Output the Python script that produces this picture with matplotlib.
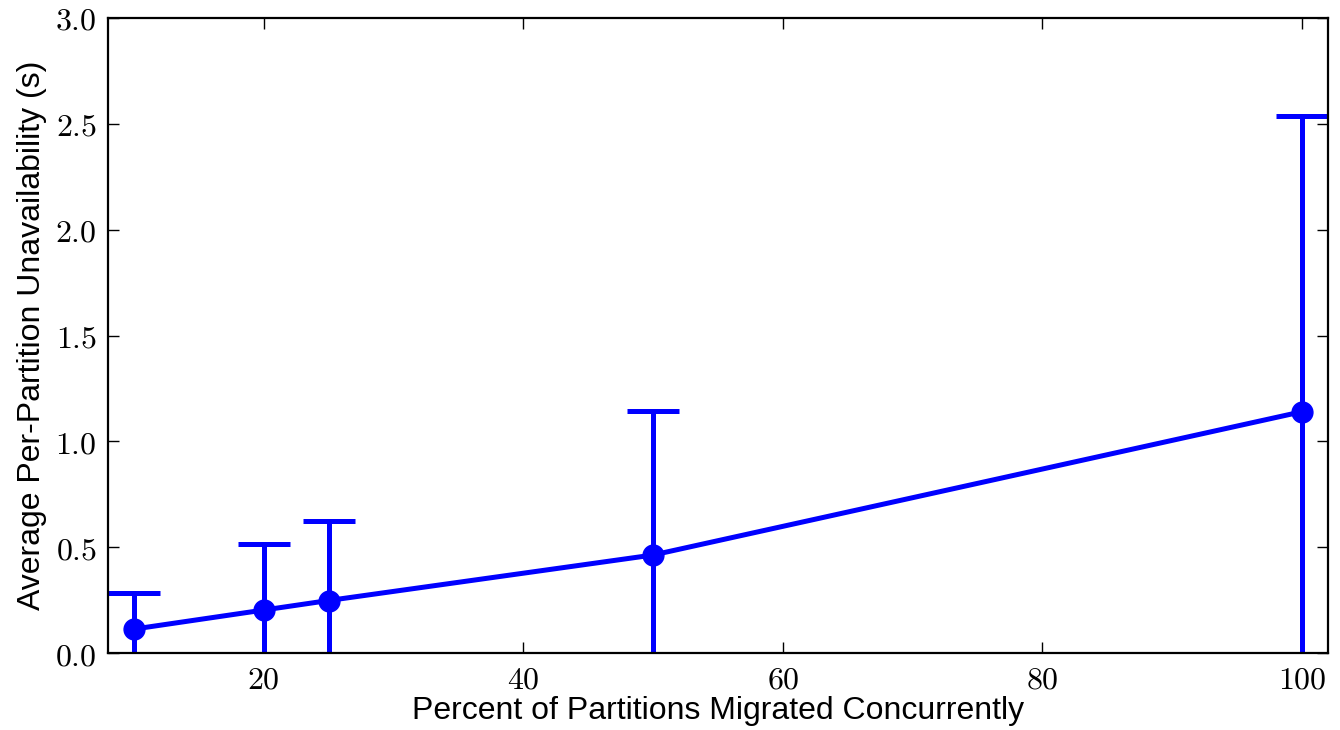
import matplotlib
matplotlib.use("Agg")
import matplotlib.pyplot as plt
from matplotlib.ticker import FuncFormatter

# values
percent = [10, 20, 25, 50, 100]
mean_unavail = [0.113, 0.203, 0.248, 0.463, 1.140]
err_unavail = [0.172, 0.310, 0.377, 0.680, 1.395]

xlabel = "Percent of Partitions Migrated Concurrently"
ylabel = "Average Per-Partition Unavailability (s)"

plt.rcParams['mathtext.fontset'] = 'cm'

fig = plt.figure(figsize=(13.4, 7.3), dpi=100)
ax = fig.add_axes([108/1340, 77/730, 1220/1340, 635/730])

ax.errorbar(percent, mean_unavail, yerr=err_unavail, color='blue',
            linewidth=3.6, elinewidth=3.6, capthick=3.6, capsize=19,
            marker='o', markersize=15)

ax.set_xlim(8, 102)
ax.set_ylim(0, 3.0)
ax.set_xticks([20, 40, 60, 80, 100])
ax.set_yticks([0.0, 0.5, 1.0, 1.5, 2.0, 2.5, 3.0])
ax.xaxis.set_major_formatter(FuncFormatter(lambda v, p: r"$%d$" % v))
ax.yaxis.set_major_formatter(FuncFormatter(lambda v, p: r"$%.1f$" % v))

ax.tick_params(direction='in', top=True, right=True, length=8, width=1,
               labelsize=23, pad=8)
for s in ax.spines.values():
    s.set_linewidth(1.6)

ax.set_xlabel(xlabel, family='Liberation Sans', fontsize=23, labelpad=1)
ax.set_ylabel(ylabel, family='Liberation Sans', fontsize=23, labelpad=6)

fig.savefig("out.png", dpi=100)
